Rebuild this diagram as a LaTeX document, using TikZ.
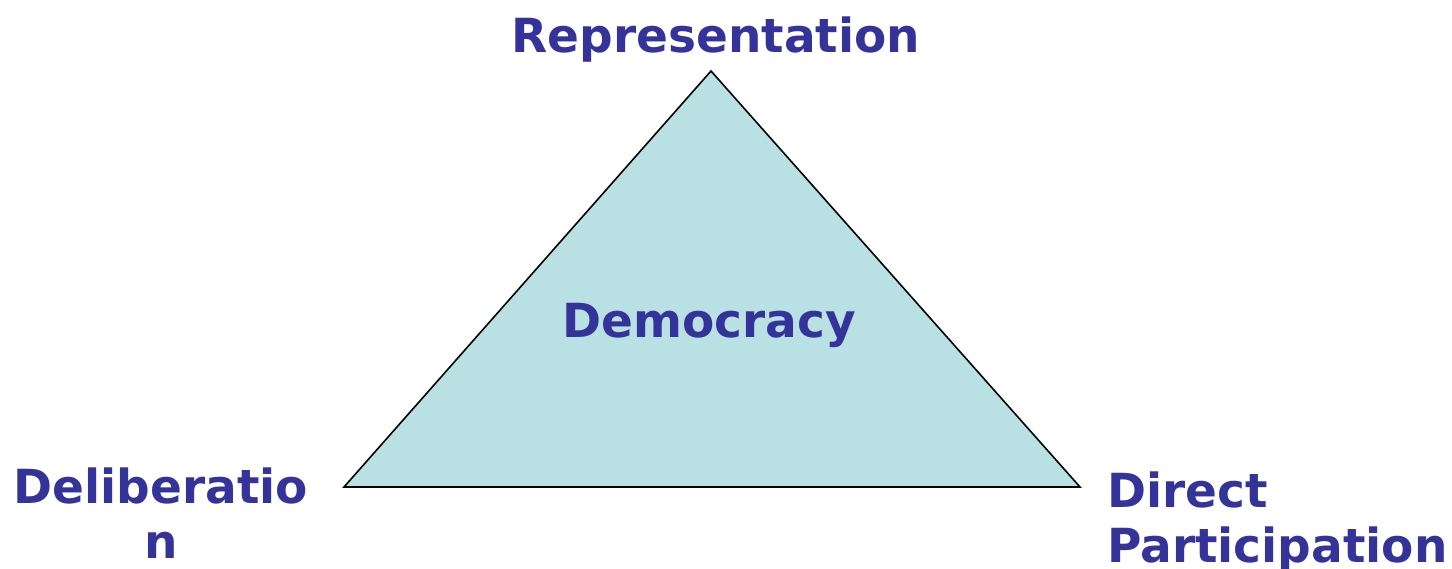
\documentclass[tikz,border=0pt]{standalone}
\usepackage{fontspec}
\setmainfont{DejaVu Sans}
\definecolor{labelblue}{RGB}{51,51,153}
\definecolor{trifill}{RGB}{185,224,227}
\begin{document}
\begin{tikzpicture}[x=1pt,y=-1pt,
  lbl/.style={font=\bfseries\fontsize{47}{55}\selectfont, text=labelblue, inner sep=0pt, align=center}]
\useasboundingbox (0,0) rectangle (1452,568);
\coordinate (top) at (711,71);
\coordinate (bl) at (344,487);
\coordinate (br) at (1080,487);
\draw[fill=trifill, line width=1.6pt, line join=miter] (top) -- (bl) -- (br) -- cycle;
\node[lbl, anchor=base] (rep) at (716,52) {Representation};
\node[lbl, anchor=base] (dem) at (709,337) {Democracy};
\node[lbl, anchor=base] (del) at (161,558) {Deliberatio\\n};
\node[lbl, anchor=base west, align=left] (dir) at (1107,562) {Direct\\Participation};
\end{tikzpicture}
\end{document}
